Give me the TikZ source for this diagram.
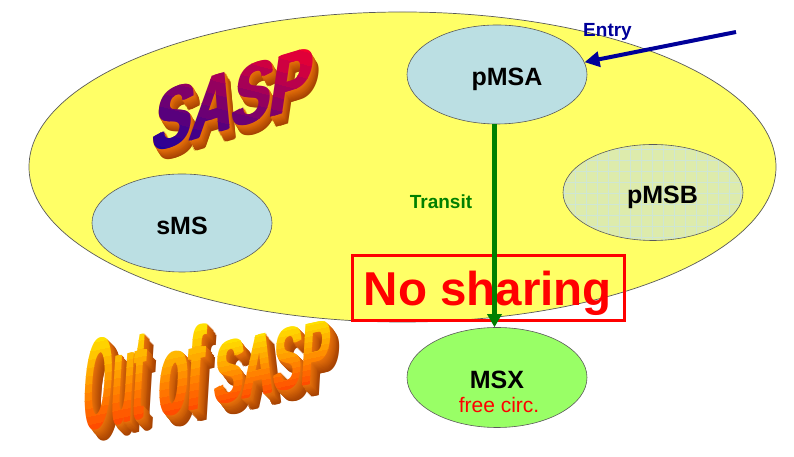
\documentclass[tikz,border=0pt]{standalone}
\usepackage{fontspec}
\setmainfont{Liberation Sans}
\usepackage{tikz}
\usetikzlibrary{shapes.geometric,arrows.meta,positioning,calc}

\definecolor{saspyellow}{RGB}{255,255,102}
\definecolor{msblue}{RGB}{187,223,227}
\definecolor{msbgreen}{RGB}{221,235,172}
\definecolor{msbgrid}{RGB}{206,230,212}
\definecolor{msxgreen}{RGB}{153,255,102}
\definecolor{transitgreen}{RGB}{0,128,0}
\definecolor{entryblue}{RGB}{0,0,153}
\definecolor{rimgray}{RGB}{90,90,90}
\definecolor{extnear}{RGB}{235,115,10}
\definecolor{extfar}{RGB}{150,55,0}
\definecolor{sasplo}{RGB}{20,0,160}
\definecolor{sasphi}{RGB}{255,0,40}
\definecolor{outlo}{RGB}{255,70,0}
\definecolor{outhi}{RGB}{255,232,0}

\tikzset{
  msnode/.style={ellipse,draw=rimgray,line width=0.6pt,minimum width=180pt,minimum height=99pt,inner sep=0pt,text height=23pt,text depth=0pt,font=\bfseries\fontsize{25}{30}\selectfont},
  artfont/.style={anchor=base,inner sep=0pt,transform shape,font=\bfseries\fontsize{100}{100}\selectfont},
}

% word art: #1 word, #2 cm, #3 gradient tilt, #4/#5 colours, #6/#7 extrusion step
\newcommand{\artword}[7]{%
  \foreach \dd in {10,...,1}{%
    \pgfmathtruncatemacro\p{100-8*\dd}%
    \begin{scope}[shift={({\dd*#6},{\dd*#7})}]
      \begin{scope}[cm={#2}]
        \foreach \ox in {0,3,6}
          \node[artfont,text=extnear!\p!extfar] at (\ox,0) {#1};
      \end{scope}
    \end{scope}
  }%
  \begin{scope}[cm={#2}]
    \foreach \i in {0,...,11}{%
      \pgfmathsetmacro\bandlo{-140*#3-2+\i*(76+280*#3)/12}%
      \pgfmathsetmacro\bandhi{\bandlo+(76+280*#3)/12+0.5}%
      \pgfmathtruncatemacro\p{(\i+0.5)*100/12}%
      \begin{scope}
        \clip (-200,{\bandlo+200*#3}) -- (200,{\bandlo-200*#3}) -- (200,{\bandhi-200*#3}) -- (-200,{\bandhi+200*#3}) -- cycle;
        \foreach \ox in {0,3,6}
          \node[artfont,text=#5!\p!#4] at (\ox,0) {#1};
      \end{scope}
    }
  \end{scope}
}

\begin{document}
\begin{tikzpicture}[x=1pt,y=1pt]
\useasboundingbox (0,0) rectangle (794,457);

\node (sasp) at (402.5,290) [ellipse,draw=rimgray,line width=0.7pt,fill=saspyellow,minimum width=747pt,minimum height=310pt,inner sep=0pt] {};

\node (pMSA) at (497,382.5) [msnode,fill=msblue] {\hspace*{20pt}pMSA};
\node (sMS) at (182,234) [msnode,fill=msblue,minimum height=98pt] {sMS};
\node (pMSB) at (653,264.5) [msnode,fill=msbgreen,minimum height=96pt,
  path picture={\draw[msbgrid,line width=0.4pt] (path picture bounding box.south west) grid[step=11pt] (path picture bounding box.north east);}] {\hspace*{19pt}pMSB};
\node (MSX) at (497,79.5) [msnode,fill=msxgreen,minimum height=100pt] {MSX};
\node (freecirc) at (499,52) [text=red,font=\fontsize{21}{24}\selectfont,text depth=0pt] {free circ.};

\artword{SASP}{0.57,0.171,0.13,0.88,(227,327)}{0.35}{sasplo}{sasphi}{0.6}{-1.0}
\artword{Out}{0.35,0.077,0.078,1.30,(112,32)}{0}{outlo}{outhi}{0.9}{-1.1}
\artword{of}{0.46,0.10,0.07,1.17,(178.5,44)}{0}{outlo}{outhi}{0.9}{-1.1}
\artword{SASP}{0.42,0.092,0.053,0.89,(270,64)}{0}{outlo}{outhi}{0.9}{-1.1}

\node (entry) at (607.5,427.5) [text=entryblue,font=\bfseries\fontsize{19}{22}\selectfont,text depth=0pt] {Entry};
\coordinate (entrytail) at (736,425);
\draw[entryblue,line width=4pt,-{Triangle[length=15pt,width=15pt]}] (entrytail) -- (pMSA.8);

\node (transit) at (441,255) [text=transitgreen,font=\bfseries\fontsize{19}{22}\selectfont,text depth=0pt] {Transit};

\node (nosharing) at (488,169) [draw=red,line width=3pt,minimum width=272pt,minimum height=65pt,inner sep=0pt,text=red,text depth=0pt,font=\bfseries\fontsize{47.5}{50}\selectfont] {No sharing};

\draw[transitgreen,line width=4.5pt,-{Triangle[length=13pt,width=14pt]}] ([xshift=-2.5pt]pMSA.south) -- ([xshift=-2.5pt]MSX.north);
\end{tikzpicture}
\end{document}
